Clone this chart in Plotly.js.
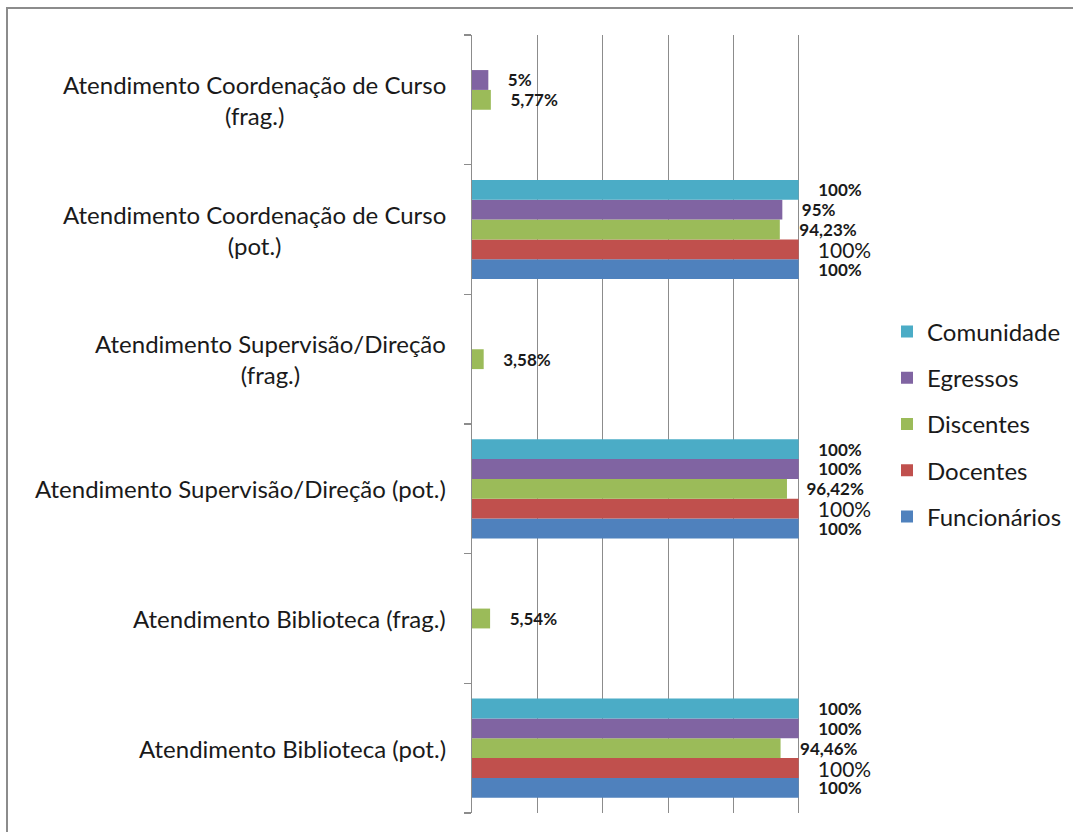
<!DOCTYPE html>
<html>
<head>
<meta charset="utf-8">
<script src="https://cdn.plot.ly/plotly-3.0.1.min.js"></script>
<style>html,body{margin:0;padding:0;background:#fff;}#chart{width:1073px;height:832px;}</style>
</head>
<body>
<div id="chart"></div>
<script>
// Categories (bottom to top as drawn)
const categories = [
  "Atendimento Biblioteca (pot.)",
  "Atendimento Biblioteca (frag.)",
  "Atendimento Supervisão/Direção (pot.)",
  "Atendimento Supervisão/Direção (frag.)",
  "Atendimento Coordenação de Curso (pot.)",
  "Atendimento Coordenação de Curso (frag.)"
];
const categoryLabels = [
  "Atendimento Biblioteca (pot.)",
  "Atendimento Biblioteca (frag.)",
  "Atendimento Supervisão/Direção (pot.)",
  "Atendimento Supervisão/Direção<br>(frag.)",
  "Atendimento Coordenação de Curso<br>(pot.)",
  "Atendimento Coordenação de Curso<br>(frag.)"
];
// Series values (%), null = no bar
const funcionarios = [100, null, 100, null, 100, null];
const docentes     = [100, null, 100, null, 100, null];
const discentes    = [94.46, 5.54, 96.42, 3.58, 94.23, 5.77];
const egressos     = [100, null, 100, null, 95, 5];
const comunidade   = [100, null, 100, null, 100, null];

const seriesNames  = ["Funcionários", "Docentes", "Discentes", "Egressos", "Comunidade"];
const seriesValues = [funcionarios, docentes, discentes, egressos, comunidade];
const seriesColors = ["#4F81BD", "#C0504D", "#9BBB59", "#8064A2", "#4BACC6"];

const FONT = "Lato, 'Open Sans', sans-serif";
function fmt(v, pad){ return v == null ? "" : pad + String(v).replace(".", ",") + "%"; }

const traces = seriesNames.map((name, i) => {
  const isDoc = name === "Docentes";
  const pad = isDoc ? "\u00A0\u00A0\u00A0" : "\u00A0\u00A0\u00A0\u00A0";
  return {
    type: "bar",
    orientation: "h",
    name: name,
    legendgroup: name,
    legendrank: seriesNames.length - i,
    y: categories,
    x: seriesValues[i],
    text: seriesValues[i].map(v => fmt(v, pad)),
    textposition: "outside",
    cliponaxis: false,
    constraintext: "none",
    textfont: isDoc
      ? {family: FONT, size: 21, color: "#1a1a1a"}
      : {family: FONT, size: 17, color: "#1a1a1a", weight: "bold"},
    marker: {color: seriesColors[i]},
    hoverinfo: "x+name"
  };
});

const W = 1073, H = 832;
const L = 472, R = 864, T = 35, B = 813;
const pw = R - L, ph = B - T;
const px = v => (v - L) / pw;
const py = v => (B - v) / ph;

const annotations = categories.map((c, i) => ({
  xref: "paper", yref: "y", x: 0, y: c,
  xanchor: "right", yanchor: "middle", xshift: -24,
  text: categoryLabels[i], align: "center", showarrow: false,
  font: {family: FONT, size: 24, color: "#1a1a1a"}
}));

const layout = {
  width: W, height: H,
  margin: {l: L, r: W - R, t: T, b: H - B, pad: 0, autoexpand: false},
  paper_bgcolor: "#fff", plot_bgcolor: "#fff",
  barmode: "group", bargap: 0.235, bargroupgap: 0,
  showlegend: true,
  legend: {
    x: px(887), y: 0.5, xanchor: "left", yanchor: "middle",
    traceorder: "grouped", tracegroupgap: 12,
    font: {family: FONT, size: 24, color: "#1a1a1a"},
    bgcolor: "rgba(0,0,0,0)"
  },
  xaxis: {
    range: [0, 120], dtick: 20, tick0: 0,
    showgrid: true, gridcolor: "#8c8c8c", gridwidth: 1,
    zeroline: false, showticklabels: false, ticks: "", showline: false,
    fixedrange: true
  },
  yaxis: {
    type: "category", showticklabels: false,
    showline: true, linecolor: "#8c8c8c", linewidth: 1.5,
    ticks: "outside", tickson: "boundaries", ticklen: 7, tickcolor: "#8c8c8c", tickwidth: 1.5,
    showgrid: false, zeroline: false, fixedrange: true
  },
  annotations: annotations,
  shapes: [{
    type: "rect", xref: "paper", yref: "paper",
    x0: px(7), x1: px(1090), y0: py(850), y1: py(8),
    line: {color: "#8c8c8c", width: 2}, fillcolor: "rgba(0,0,0,0)", layer: "below"
  }],
  font: {family: FONT}
};

Plotly.newPlot("chart", traces, layout, {displayModeBar: false, staticPlot: true});
</script>
</body>
</html>
